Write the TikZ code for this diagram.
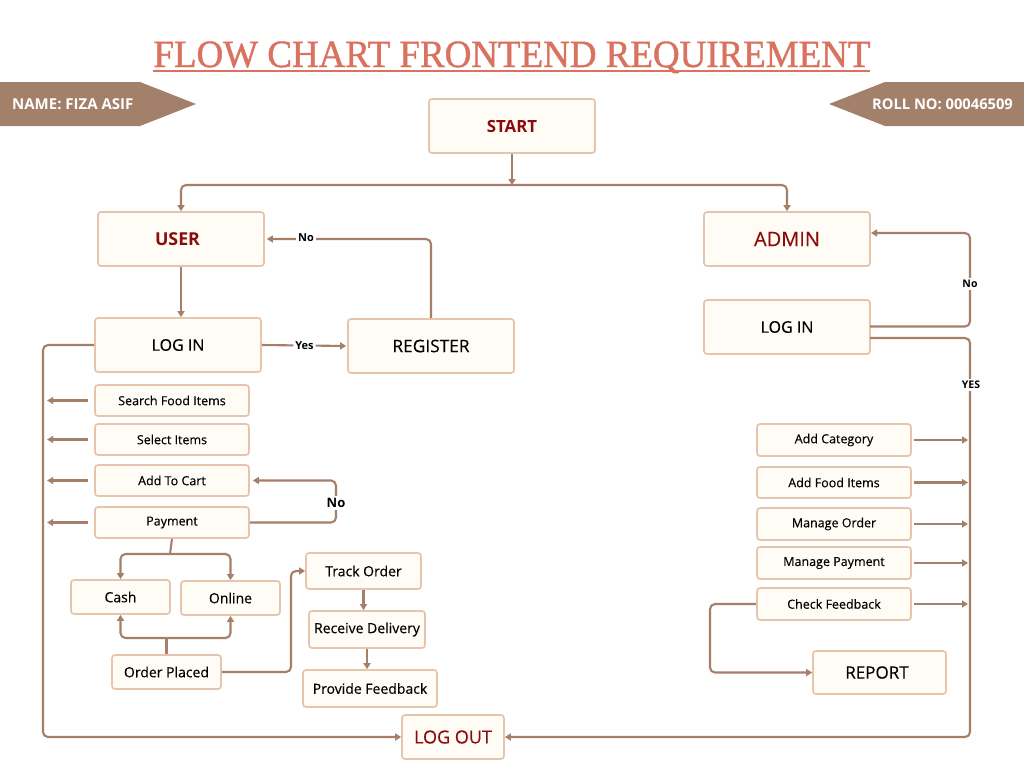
\documentclass[tikz,border=0pt]{standalone}
\usepackage{fontspec}
\setmainfont{Open Sans}[UprightFeatures={FakeBold=0.25}]
\newfontfamily\titlefont{Liberation Serif}[FakeBold=1.2]
\usetikzlibrary{arrows.meta}
\definecolor{boxfill}{HTML}{FFFCF5}
\definecolor{boxline}{HTML}{E6C5AC}
\definecolor{conncol}{HTML}{A67F69}
\definecolor{bannercol}{HTML}{A3806A}
\definecolor{titlecol}{HTML}{D9735F}
\definecolor{darkred}{HTML}{8B0A0A}
\tikzset{
  box/.style={draw=boxline, fill=boxfill, line width=1.7pt, rounded corners=3pt, inner sep=0pt, align=center},
  bigbox/.style={box, minimum width=166pt, minimum height=54pt, font=\fontsize{16}{18}\selectfont},
  listbox/.style={box, minimum width=154pt, minimum height=31pt, font=\fontsize{12.5}{14}\selectfont},
  conn/.style={draw=conncol, line width=2.1pt, rounded corners=5pt},
  tip/.style={-{Triangle[length=6pt,width=7pt]}},
  lbl/.style={fill=white, inner sep=2pt, font=\bfseries\fontsize{11}{13}\selectfont},
}
\begin{document}
\begin{tikzpicture}[x=1pt,y=-1pt]
\useasboundingbox[fill=white] (0,0) rectangle (1024,768);
% title
\node[anchor=base, text=titlecol, inner sep=0pt] (title) at (512,67)
  {\resizebox{717pt}{25.5pt}{\titlefont\fontsize{40}{40}\selectfont FLOW CHART FRONTEND REQUIREMENT}};
\draw[titlecol, line width=2.5pt] (153,71) -- (870,71);
% banners
\fill[bannercol] (0,82) -- (140,82) -- (196,104) -- (140,126) -- (0,126) -- cycle;
\fill[bannercol] (1024,82) -- (885,82) -- (829,104) -- (885,126) -- (1024,126) -- cycle;
\node[anchor=west, text=white, font=\bfseries\fontsize{15}{17}\selectfont, inner sep=0pt] (name) at (12,104) {NAME: FIZA ASIF};
\node[anchor=east, text=white, font=\bfseries\fontsize{14.7}{17}\selectfont, inner sep=0pt] (roll) at (1013,104) {ROLL NO: 00046509};
% nodes
\node[bigbox, text=darkred, font=\bfseries\fontsize{16.8}{18}\selectfont] (start) at (512,126) {START};
\node[bigbox, text=darkred, font=\bfseries\fontsize{17.8}{19}\selectfont] (user) at (181,239) {\hspace*{-7pt}USER};
\node[bigbox, text=darkred, font=\fontsize{20}{22}\selectfont] (admin) at (787,239) {ADMIN};
\node[bigbox] (loginU) at (178,345) {LOG IN};
\node[bigbox, font=\fontsize{17.3}{19}\selectfont] (register) at (431,346) {REGISTER};
\node[bigbox] (loginA) at (787,327) {LOG IN};
\node[listbox] (search) at (172,400.5) {Search Food Items};
\node[listbox] (select) at (172,439.5) {Select Items};
\node[listbox] (cart) at (172,480.5) {Add To Cart};
\node[listbox] (payment) at (172,522.5) {Payment};
\node[box, minimum width=99pt, minimum height=34pt, font=\fontsize{14}{16}\selectfont] (cash) at (120.5,597) {Cash};
\node[box, minimum width=99pt, minimum height=34pt, font=\fontsize{14}{16}\selectfont] (online) at (230.5,598) {Online};
\node[box, minimum width=109pt, minimum height=34pt, font=\fontsize{14}{16}\selectfont] (placed) at (166.5,672) {Order Placed};
\node[box, minimum width=115pt, minimum height=36pt, font=\fontsize{14}{16}\selectfont] (track) at (363.5,571) {Track Order};
\node[box, minimum width=116pt, minimum height=37pt, font=\fontsize{14}{16}\selectfont] (receive) at (367,629.5) {Receive Delivery};
\node[box, minimum width=134pt, minimum height=37pt, font=\fontsize{14}{16}\selectfont] (provide) at (370,688.5) {Provide Feedback};
\node[box, minimum width=102pt, minimum height=44pt, text=darkred, font=\fontsize{18}{20}\selectfont] (logout) at (453,737) {LOG OUT};
\node[listbox, minimum height=32pt] (addcat) at (834,440) {Add Category};
\node[listbox] (addfood) at (834,482.5) {Add Food Items};
\node[listbox, minimum height=32pt] (manorder) at (834,524) {Manage Order};
\node[listbox, minimum height=32pt] (manpay) at (834,563) {Manage Payment};
\node[listbox, minimum height=32pt] (checkfb) at (834,604) {Check Feedback};
\node[box, minimum width=133pt, minimum height=43pt, font=\fontsize{17}{19}\selectfont] (report) at (879.5,672.5) {\hspace*{-5pt}REPORT};
% connectors
\coordinate (j1) at (512,185);
\draw[conn, tip] (start.south) -- (j1);
\draw[conn, {Triangle[length=6pt,width=7pt]}-{Triangle[length=6pt,width=7pt]}] (user.north) |- (j1) -| (admin.north);
\draw[conn, tip] (user.south) -- (user.south |- loginU.north);
\draw[conn, tip, shorten >=1pt] (loginU.east) -- node[lbl] (lyes) {Yes} (register.west);
\draw[conn, tip, shorten >=2pt] (register.north) |- (user.east);
\node[lbl] (lno1) at (306,238) {No};
\draw[conn, tip] (loginU.west) -- (43,345) |- (logout.west);
\foreach \n in {search,select,cart,payment}
  \draw[conn, tip] ([xshift=-6pt]\n.west) -- ++(-41,0);
\draw[conn, tip, shorten >=3pt] (payment.east) -- (336,522.5) |- (cart.east);
\node[lbl, font=\bfseries\fontsize{13}{15}\selectfont] (lno2) at (336,503) {No};
\coordinate (pj) at (170,554);
\draw[conn] (payment.south) -- (pj);
\draw[conn, tip] (pj) -| (cash.north);
\draw[conn, tip] (pj) -| (online.north);
\coordinate (oj) at (166.5,638);
\draw[conn] (placed.north) -- (oj);
\draw[conn, tip] (oj) -| (cash.south);
\draw[conn, tip] (oj) -| (online.south);
\draw[conn, tip] (placed.east) -- (291,672) |- (track.west);
\draw[conn, tip] (track.south) -- (track.south |- receive.north);
\draw[conn, tip] (receive.south) -- (receive.south |- provide.north);
\coordinate (aIn) at (870,233);
\draw[conn, tip, shorten >=1pt] (870,326.5) -- (970,326.5) |- (aIn);
\node[lbl, font=\bfseries\fontsize{10.5}{12}\selectfont] (lno3) at (970,284) {No};
\draw[conn, tip] (870,338) -- (970,338) |- (logout.east);
\node[lbl, font=\bfseries\fontsize{10.5}{12}\selectfont] (lyes2) at (971,385) {YES};
\foreach \n in {addcat,addfood,manorder,manpay,checkfb}
  \draw[conn, tip] ([xshift=2pt]\n.east) -- (968,0 |- \n.east);
\draw[conn, tip] (checkfb.west) -- (710,604) |- (report.west);
\end{tikzpicture}
\end{document}
